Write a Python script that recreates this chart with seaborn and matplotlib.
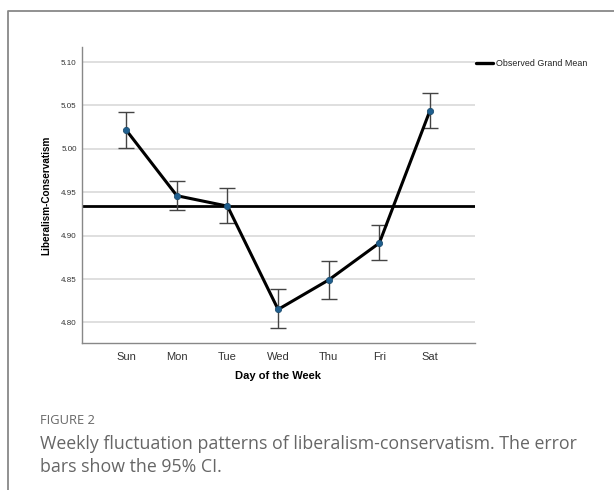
import matplotlib
matplotlib.use("Agg")
import matplotlib.pyplot as plt
import seaborn as sns
import pandas as pd
from matplotlib.lines import Line2D

days = ["Sun", "Mon", "Tue", "Wed", "Thu", "Fri", "Sat"]
means = [5.0215, 4.9460, 4.9340, 4.8150, 4.8490, 4.8915, 5.0440]
ci_upper = [5.0430, 4.9630, 4.9545, 4.8385, 4.8710, 4.9120, 5.0645]
ci_lower = [5.0005, 4.9290, 4.9150, 4.7935, 4.8270, 4.8715, 5.0240]
grand_mean = 4.9340
yticks = [4.80, 4.85, 4.90, 4.95, 5.00, 5.05, 5.10]

df = pd.DataFrame({"day": days, "mean": means})

sns.set_theme(style="white")
plt.rcParams["font.family"] = ["Liberation Sans", "DejaVu Sans"]

fig = plt.figure(figsize=(6.14, 4.90), dpi=100)
ax = fig.add_axes([0.1331, 0.2994, 0.6405, 0.6041])

# grid lines
for t in yticks:
    ax.axhline(t, color="#d9d9d9", lw=1.2, zorder=0)

# grand mean
ax.axhline(grand_mean, color="black", lw=2.0, zorder=2)

# error bars
yerr = [[m - l for m, l in zip(means, ci_lower)], [u - m for m, u in zip(means, ci_upper)]]
ax.errorbar(days, means, yerr=yerr, fmt="none", ecolor="#444444", elinewidth=1.0,
            capsize=6, capthick=1.0, zorder=3)

sns.lineplot(data=df, x="day", y="mean", ax=ax, color="black", lw=2.2, sort=False,
             marker="o", markersize=4.5, markerfacecolor="#1f5f8f", markeredgecolor="#1f4f70",
             markeredgewidth=0.6, zorder=4)

ax.set_xlim(-0.88, 6.89)
ax.set_ylim(4.776, 5.117)
ax.set_yticks(yticks)
ax.set_yticklabels([f"{t:.2f}" for t in yticks], fontsize=5.8, color="#333333")
ax.tick_params(axis="x", labelsize=8, colors="#333333", length=0, pad=6)
ax.tick_params(axis="y", length=0, pad=3.6)
ax.set_xlabel("Day of the Week", fontsize=8, fontweight="bold", color="black", labelpad=7)
ax.set_ylabel("Liberalism-Conservatism", fontsize=7.2, fontweight="bold", color="black", labelpad=7)

for s in ["top", "right"]:
    ax.spines[s].set_visible(False)
for s in ["left", "bottom"]:
    ax.spines[s].set_color("#888888")
    ax.spines[s].set_linewidth(1.0)

# legend
fig.add_artist(Line2D([476/614, 493/614], [1 - 63/490, 1 - 63/490], color="black", lw=2.4))
fig.text(496/614, 1 - 63/490, "Observed Grand Mean", fontsize=6.4, va="center", ha="left", color="#222222")

# frame
fig.add_artist(Line2D([7.5/614, 7.5/614, 1.0], [0.0, 1 - 11.5/490, 1 - 11.5/490], color="#888888", lw=1.3))

# caption
fig.text(40/614, 1 - 420/490, "FIGURE 2", fontsize=9.3, color="#666666", va="center", ha="left",
         family=["Open Sans", "DejaVu Sans"])
fig.text(40/614, 1 - 444/490, "Weekly fluctuation patterns of liberalism-conservatism. The error",
         fontsize=12.8, color="#666666", va="center", ha="left", family=["Open Sans", "DejaVu Sans"])
fig.text(40/614, 1 - 467/490, "bars show the 95% CI.",
         fontsize=12.8, color="#666666", va="center", ha="left", family=["Open Sans", "DejaVu Sans"])

fig.savefig("out.png", dpi=100)
